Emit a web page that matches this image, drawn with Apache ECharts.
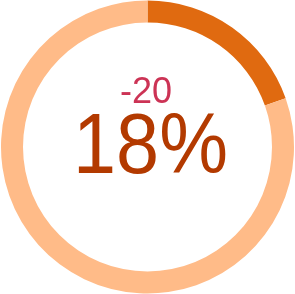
<!DOCTYPE html>
<html>
<head>
<meta charset="utf-8">
<script src="https://cdn.jsdelivr.net/npm/echarts@6/dist/echarts.min.js"></script>
<style>
  html, body { margin: 0; padding: 0; background: #fff; }
  #main { width: 295px; height: 294px; }
</style>
</head>
<body>
<div id="main"></div>
<script>
// ring values (share of the circle)
const segmentNames = ['done', 'rest'];
const segmentValues = [19.6, 80.4];
const segmentColors = ['#E06A10', '#FFBB88'];
const deltaText = '-20';
const percentText = '18%';

window.onload = function () {
  const chartDom = document.getElementById('main');
  const myChart = echarts.init(chartDom);

  const option = {
    animation: false,
    series: [{
      type: 'pie',
      center: ['50%', '50%'],
      radius: [124.5, 146.5],
      startAngle: 90,
      clockwise: true,
      silent: true,
      label: { show: false },
      labelLine: { show: false },
      data: segmentNames.map(function (n, i) {
        return { name: n, value: segmentValues[i], itemStyle: { color: segmentColors[i] } };
      })
    }],
    graphic: [
      {
        type: 'text',
        x: 146,
        y: 93.5,
        style: {
          x: 0,
          y: 0,
          text: deltaText,
          align: 'center',
          verticalAlign: 'middle',
          fill: '#CC3355',
          font: '36px "Liberation Sans", Arial, sans-serif'
        }
      },
      {
        type: 'text',
        x: 150.5,
        y: 150,
        scaleX: 0.91,
        style: {
          x: 0,
          y: 0,
          text: percentText,
          align: 'center',
          verticalAlign: 'middle',
          fill: '#B33A00',
          font: '85px "Liberation Sans", Arial, sans-serif'
        }
      }
    ]
  };

  option && myChart.setOption(option);
};
</script>
</body>
</html>
